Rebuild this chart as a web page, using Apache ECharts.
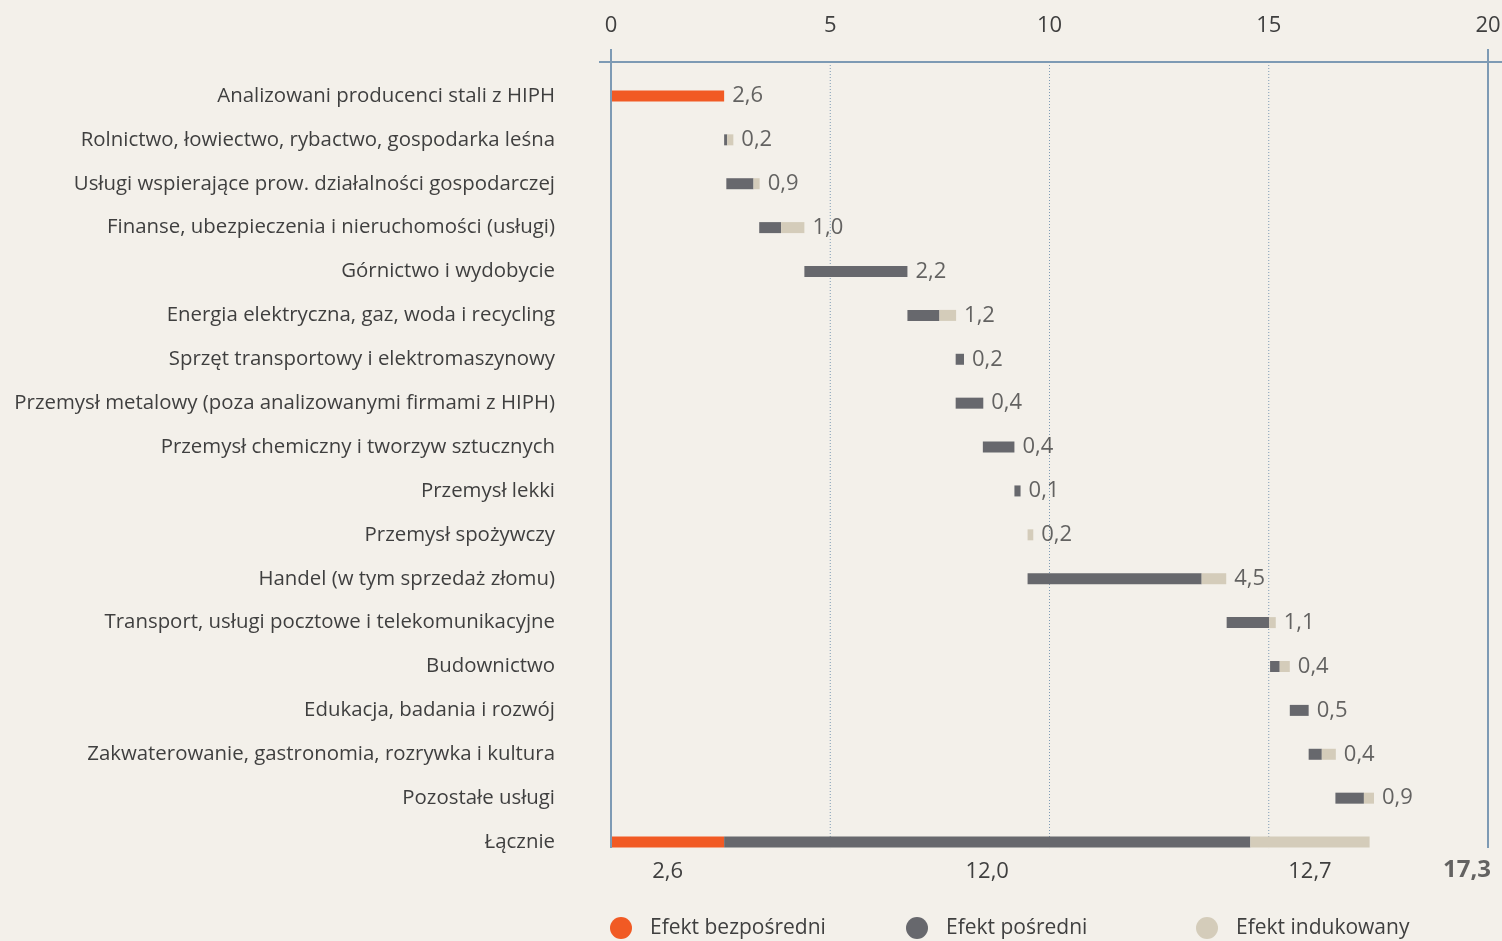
<!DOCTYPE html>
<html><head><meta charset="utf-8">
<script src="https://cdn.jsdelivr.net/npm/echarts@6/dist/echarts.min.js"></script>
<style>html,body{margin:0;padding:0;background:#f3f0ea;} #c{width:1502px;height:941px;}</style>
</head><body><div id="c"></div>
<script>
const categories = [
  'Analizowani producenci stali z HIPH',
  'Rolnictwo, łowiectwo, rybactwo, gospodarka leśna',
  'Usługi wspierające prow. działalności gospodarczej',
  'Finanse, ubezpieczenia i nieruchomości (usługi)',
  'Górnictwo i wydobycie',
  'Energia elektryczna, gaz, woda i recycling',
  'Sprzęt transportowy i elektromaszynowy',
  'Przemysł metalowy (poza analizowanymi firmami z HIPH)',
  'Przemysł chemiczny i tworzyw sztucznych',
  'Przemysł lekki',
  'Przemysł spożywczy',
  'Handel (w tym sprzedaż złomu)',
  'Transport, usługi pocztowe i telekomunikacyjne',
  'Budownictwo',
  'Edukacja, badania i rozwój',
  'Zakwaterowanie, gastronomia, rozrywka i kultura',
  'Pozostałe usługi',
  'Łącznie'
];
// waterfall start of each bar (as drawn)
const startOffset = [0, 2.58, 2.63, 3.38, 4.41, 6.76, 7.86, 7.86, 8.48, 9.2, 9.5, 9.5, 14.04, 15.03, 15.48, 15.91, 16.52, 0];
const direct   = [2.58, 0, 0, 0, 0, 0, 0, 0, 0, 0, 0, 0, 0, 0, 0, 0, 0, 2.58];
const indirect = [0, 0.07, 0.62, 0.50, 2.35, 0.73, 0.19, 0.63, 0.72, 0.14, 0, 3.97, 0.97, 0.22, 0.43, 0.30, 0.65, 12.0];
const induced  = [0, 0.14, 0.14, 0.53, 0, 0.38, 0, 0, 0, 0, 0.13, 0.56, 0.15, 0.23, 0, 0.32, 0.23, 2.72];
const valueLabels = ['2,6','0,2','0,9','1,0','2,2','1,2','0,2','0,4','0,4','0,1','0,2','4,5','1,1','0,4','0,5','0,4','0,9',''];
const totalLabels = ['2,6', '12,0', '12,7'];
const totalSum = '17,3';
const xTicks = [0, 5, 10, 15, 20];
const legendNames = ['Efekt bezpośredni', 'Efekt pośredni', 'Efekt indukowany'];

const COLORS = ['#f15a24', '#67686d', '#d4ccba'];
const FONT = '"Open Sans", "Noto Sans", sans-serif';
const TXT = '#3f3f3f';
const LINE = '#7d9ab4';
const last = categories.length - 1;

const ends = categories.map((c, i) => startOffset[i] + direct[i] + indirect[i] + induced[i]);

function withTotalLabel(arr, text) {
  return arr.map((v, i) => i === last ? {
    value: v,
    label: { show: true, position: 'bottom', distance: 13, formatter: text,
      fontSize: 22, fontFamily: FONT, color: TXT }
  } : v);
}

const legendLefts = [610, 906, 1196];
const legends = legendNames.map((n, i) => ({
  data: [n], left: legendLefts[i], top: 917, icon: 'circle', padding: 0,
  itemWidth: 22, itemHeight: 22, selectedMode: false,
  textStyle: { fontSize: 21, color: TXT, fontFamily: FONT, padding: [0, 0, 0, 13] }
}));

const chart = echarts.init(document.getElementById('c'), null, { renderer: 'canvas' });
const option = {
  backgroundColor: '#f3f0ea',
  animation: false,
  textStyle: { fontFamily: FONT },
  grid: { left: 611, right: 14, top: 74, height: 790, containLabel: false, outerBoundsMode: 'none' },
  xAxis: {
    type: 'value', position: 'top', min: 0, max: 20, interval: 5, offset: 12,
    axisLine: { show: false }, axisTick: { show: false }, splitLine: { show: false },
    axisLabel: { fontSize: 22, color: TXT, fontFamily: FONT, margin: 25 }
  },
  yAxis: {
    type: 'category', inverse: true, data: categories,
    axisLine: { show: false }, axisTick: { show: false }, splitLine: { show: false },
    axisLabel: { fontSize: 20.4, color: TXT, fontFamily: FONT, margin: 56, padding: [0, 0, 7, 0] }
  },
  legend: legends,
  series: [
    { type: 'bar', stack: 'w', data: startOffset, barWidth: 11, silent: true,
      itemStyle: { color: 'transparent' } },
    { name: legendNames[0], type: 'bar', stack: 'w', barWidth: 11, data: withTotalLabel(direct, totalLabels[0]),
      itemStyle: { color: COLORS[0] } },
    { name: legendNames[1], type: 'bar', stack: 'w', barWidth: 11, data: withTotalLabel(indirect, totalLabels[1]),
      itemStyle: { color: COLORS[1] } },
    { name: legendNames[2], type: 'bar', stack: 'w', barWidth: 11, data: withTotalLabel(induced, totalLabels[2]),
      itemStyle: { color: COLORS[2] } },
    { type: 'scatter', symbolSize: 0, silent: true,
      data: categories.map((c, i) => [ends[i], c, valueLabels[i]]).filter(d => d[2] !== ''),
      label: { show: true, position: 'right', distance: 8, fontSize: 22, color: TXT, fontFamily: FONT,
        formatter: p => p.data[2] } },
    { type: 'scatter', symbolSize: 0, silent: true,
      data: [[xTicks[xTicks.length - 1], categories[last], totalSum]],
      label: { show: true, position: 'bottom', distance: 16, align: 'right', offset: [3, 0], fontSize: 24, fontWeight: 'bold',
        color: TXT, fontFamily: FONT, formatter: p => p.data[2] } }
  ]
};
chart.setOption(option);

// decorative frame and dotted grid lines, positioned from the axis scale
const px = v => chart.convertToPixel({ xAxisIndex: 0 }, v);
const yLast = chart.convertToPixel({ yAxisIndex: 0 }, categories[last]);
const yBottom = yLast + 6;
const axisY = 62, frameTop = 49;
const g = [];
xTicks.forEach((t, i) => {
  const x = px(t);
  if (i === 0 || i === xTicks.length - 1) {
    g.push({ type: 'line', shape: { x1: x, y1: frameTop, x2: x, y2: yBottom }, style: { stroke: LINE, lineWidth: 2 }, z: 5 });
  } else {
    g.push({ type: 'line', shape: { x1: x, y1: axisY, x2: x, y2: yBottom }, style: { stroke: LINE, lineWidth: 1, lineDash: [1, 2] }, z: 0 });
  }
});
g.push({ type: 'line', shape: { x1: px(0) - 12, y1: axisY, x2: 1502, y2: axisY }, style: { stroke: LINE, lineWidth: 2 }, z: 5 });
chart.setOption({ graphic: g });
</script>
</body></html>
